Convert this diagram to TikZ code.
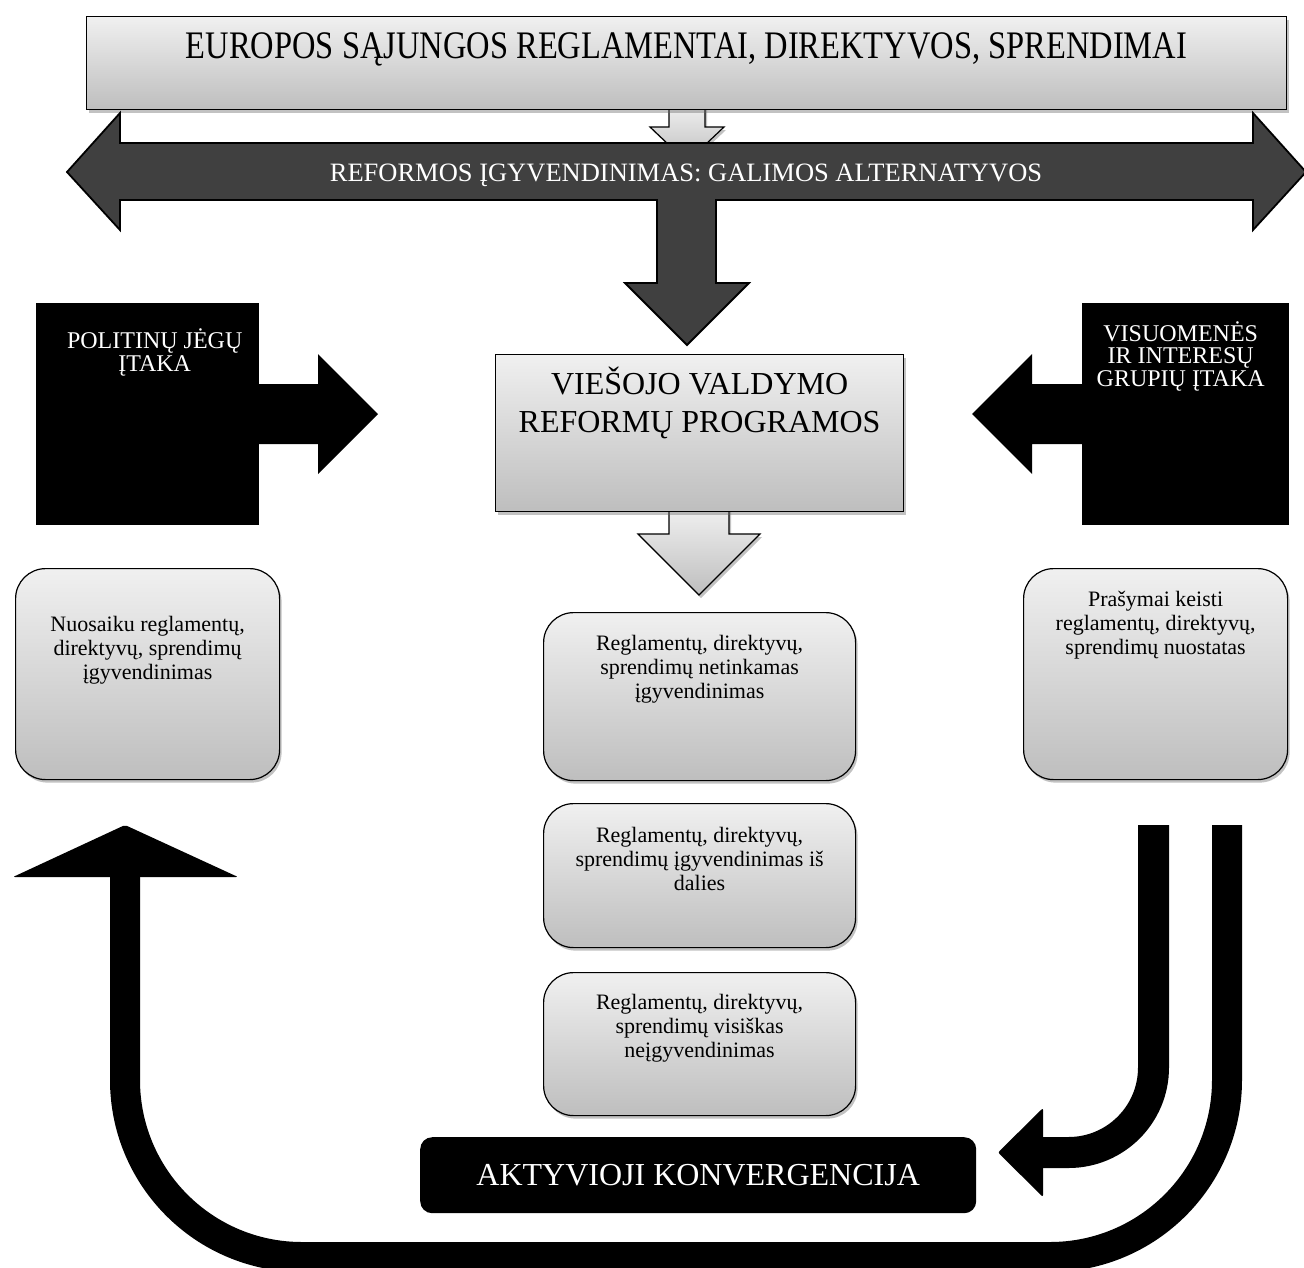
\documentclass[tikz,border=0pt]{standalone}
\usepackage{fontspec}
\setmainfont{Liberation Serif}
\usepackage{graphicx}
\usetikzlibrary{positioning,shadows}
\definecolor{boxtop}{HTML}{F0F0F0}
\definecolor{boxbottom}{HTML}{BEBEBE}
\definecolor{arrowdark}{HTML}{404040}
\newcommand{\firststrut}{\rule{0pt}{1em}}
\newcommand{\fsize}[2]{\fontsize{#1}{#2}\selectfont\lineskiplimit=-50pt\relax}
\tikzset{
  shade box/.style={draw=black, line width=1.2pt, top color=boxtop, bottom color=boxbottom,
    drop shadow={shadow xshift=2pt, shadow yshift=-3pt, fill=black!60, opacity=.4}},
  plain box/.style={shade box, anchor=north west, inner sep=0pt},
  soft box/.style={plain box, rounded corners=30pt},
  dark box/.style={fill=black, anchor=north west, inner sep=0pt},
  dark shape/.style={fill=arrowdark, draw=black, line width=1.8pt},
  lbl/.style={inner sep=0pt, align=center},
  band/.style={draw=black, line cap=butt},
  band tip/.style={fill=black, rounded corners=2pt},
}
\begin{document}
\begin{tikzpicture}[x=1pt, y=-1pt]
  \useasboundingbox (0,0) rectangle (1304,1267);
  \clip (0,0) rectangle (1304,1267);

  \path[shade box] (669,105) -- (669,127) -- (650,127) -- (687,162) -- (724,127) -- (705,127) -- (705,105) -- cycle;
  \node[plain box, minimum width=1200pt, minimum height=93pt] (eu) at (86,16) {};
  \node[lbl, anchor=base, font=\fsize{32.5}{36}] (eu-t) at ([yshift=-42pt]eu.north) {\scalebox{1}[1.2]{EUROPOS SĄJUNGOS REGLAMENTAI, DIREKTYVOS, SPRENDIMAI}};

  \path[dark shape] (67,172) -- (120,113) -- (120,143) -- (1253,143) -- (1253,113) -- (1306,172) -- (1253,230) -- (1253,200)
    -- (716,200) -- (716,283) -- (749,283) -- (687,345) -- (625,283) -- (657,283) -- (657,200)
    -- (120,200) -- (120,230) -- cycle;
  \node[lbl, anchor=base, text=white, font=\fsize{26.5}{30}] (alt-t) at (686,181) {REFORMOS ĮGYVENDINIMAS: GALIMOS ALTERNATYVOS};

  \path[shade box] (669,508) -- (669,534) -- (638,534) -- (699,595) -- (760,534) -- (729,534) -- (729,508) -- cycle;
  \node[plain box, minimum width=408pt, minimum height=157pt] (prog) at (495,354) {};
  \node[lbl, font=\fsize{32}{38}, below=8.6pt of prog.north] (prog-t) {\firststrut VIEŠOJO VALDYMO\\REFORMŲ PROGRAMOS};

  \node[dark box, minimum width=223pt, minimum height=222pt] (polit) at (36,303) {};
  \fill (255,384) -- (318,384) -- (318,354) -- (378,414) -- (318,474) -- (318,444) -- (255,444) -- cycle;
  \node[lbl, text=white, font=\fsize{24}{23}, below=21pt of polit.north, xshift=7pt] (polit-t) {\firststrut POLITINŲ JĖGŲ\\ĮTAKA};

  \node[dark box, minimum width=207pt, minimum height=222pt] (visuom) at (1082,303) {};
  \fill (1086,384) -- (1032,384) -- (1032,354) -- (972,414) -- (1032,474) -- (1032,444) -- (1086,444) -- cycle;
  \node[lbl, text=white, font=\fsize{24}{22.5}, below=14pt of visuom.north, xshift=-5pt] (visuom-t) {\firststrut VISUOMENĖS\\IR INTERESŲ\\GRUPIŲ ĮTAKA};

  \node[soft box, minimum width=264pt, minimum height=211pt] (nuos) at (15,568) {};
  \node[lbl, font=\fsize{22}{24}, below=41pt of nuos.north] (nuos-t) {\firststrut Nuosaiku reglamentų,\\direktyvų, sprendimų\\įgyvendinimas};
  \node[soft box, minimum width=264pt, minimum height=211pt] (prasym) at (1023,568) {};
  \node[lbl, font=\fsize{22}{24}, below=16pt of prasym.north] (prasym-t) {\firststrut Prašymai keisti\\reglamentų, direktyvų,\\sprendimų nuostatas};

  \node[soft box, minimum width=312pt, minimum height=168pt] (netink) at (543,612) {};
  \node[lbl, font=\fsize{22}{24}, below=16pt of netink.north] (netink-t) {\firststrut Reglamentų, direktyvų,\\sprendimų netinkamas\\įgyvendinimas};
  \node[soft box, minimum width=312pt, minimum height=144pt] (dalis) at (543,803) {};
  \node[lbl, font=\fsize{22}{24}, below=17pt of dalis.north] (dalis-t) {\firststrut Reglamentų, direktyvų,\\sprendimų įgyvendinimas iš\\dalies};
  \node[soft box, minimum width=312pt, minimum height=143pt] (nevisai) at (543,972) {};
  \node[lbl, font=\fsize{22}{24}, below=15pt of nevisai.north] (nevisai-t) {\firststrut Reglamentų, direktyvų,\\sprendimų visiškas\\neįgyvendinimas};

  \node[dark box, rounded corners=12pt, minimum width=556pt, minimum height=76pt, text=white, font=\fsize{32}{38}] (konv) at (420,1137) {AKTYVIOJI KONVERGENCIJA};

  \coordinate (inner-top) at (1153.5,825);
  \coordinate (inner-end) at (1043,1152.5);
  \draw[band, line width=31pt, rounded corners=85pt] (inner-top) |- (inner-end);
  \fill[band tip] (1043,1108) -- (998,1152.5) -- (1043,1197) -- cycle;

  \coordinate (outer-top) at (1227,825);
  \coordinate (outer-end) at (125,877);
  \draw[band, line width=30pt, rounded corners=177pt] (outer-top) -- (1227,1257) -- (125,1257) -- (outer-end);
  \fill[band tip] (13,877) -- (125,825) -- (238,877) -- cycle;
\end{tikzpicture}
\end{document}
